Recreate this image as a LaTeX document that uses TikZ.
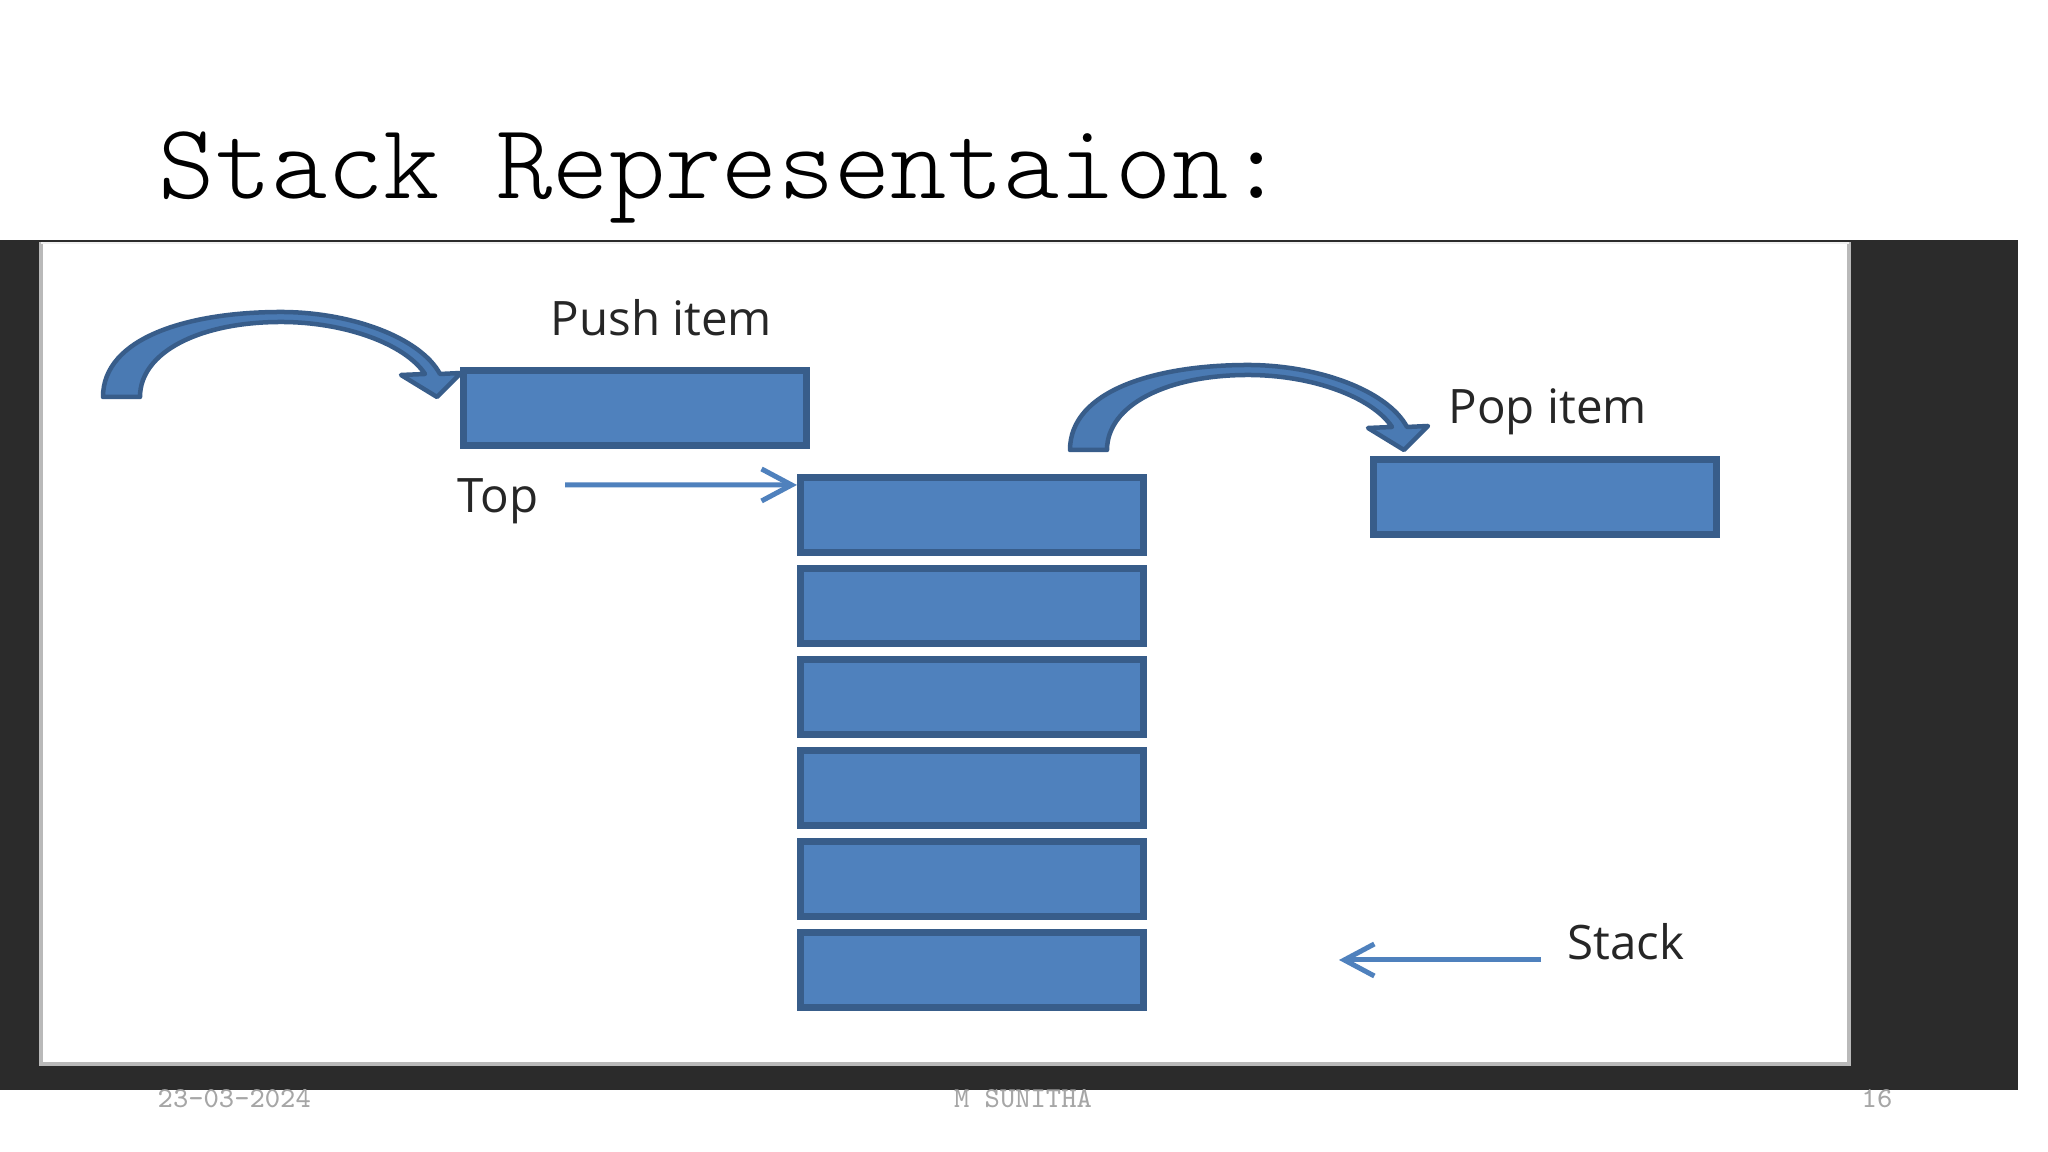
\documentclass[tikz,border=0pt]{standalone}
\usepackage{fontspec}
\setmainfont{Open Sans}
\newfontfamily\titlefont{Latin Modern Mono Light}
\usetikzlibrary{arrows.meta, positioning}
\definecolor{cellfill}{HTML}{4F81BD}
\definecolor{celledge}{HTML}{385D8A}
\definecolor{panel}{HTML}{2B2B2B}
\definecolor{footgray}{HTML}{A6A6A6}

\begin{document}
\begin{tikzpicture}[
      x=0.01cm, y=0.01cm,
      node distance=0.09cm,
      cell/.style={rectangle, draw=celledge, fill=cellfill, line width=0.07cm,
                   minimum width=3.43cm, minimum height=0.75cm, inner sep=0pt},
      lbl/.style={font=\fontsize{13.5}{16}\selectfont, text=black!85, inner sep=0pt},
      foot/.style={font=\ttfamily\fontsize{8.2}{10}\selectfont, text=footgray, inner sep=0pt},
      arr/.style={-{Straight Barb[length=3mm, width=3.2mm]}, line width=0.05cm, cellfill},
      bent/.style={fill=cellfill!80!celledge, draw=celledge, line width=0.045cm, line join=round},
      pics/bentarrow/.style={code={
        \filldraw[bent] (0,0) .. controls (0,60) and (87,85) .. (178,85)
          .. controls (247,85) and (317,60) .. (337,23) -- (358,24) -- (334,0)
          -- (298,22) -- (322,23) .. controls (302,53) and (242,75) .. (178,75)
          .. controls (97,75) and (37,45) .. (37,0) -- cycle;
      }}
    ]
      \useasboundingbox (0,0) rectangle (2048,1152);
      % slide frame
      \fill[panel] (0,62) rectangle (2018,912);
      \fill[white] (39,86) rectangle (1851,910);
      \draw[gray!55, line width=0.04cm] (41,910) -- (41,88) -- (1849,88) -- (1849,910);
      \draw[gray!12, line width=0.02cm] (41,909) -- (1849,909);

      \node[anchor=base west, inner sep=0pt, font=\titlefont\fontsize{30.5}{36}\selectfont]
        (title) at (158,953) {Stack Representaion:};

      % stack cells
      \node[cell] (s1) at (972,637) {};
      \foreach \i [count=\j from 1] in {2,...,6}
        \node[cell, below=of s\j] (s\i) {};

      \node[cell] (pushcell) at (635,744) {};
      \node[cell] (popcell) at (1545,655) {};

      \node[lbl, anchor=base west] (pushlbl) at (550,816) {Push item};
      \node[lbl, anchor=base west] (toplbl) at (457,639) {Top};
      \node[lbl, anchor=base west] (poplbl) at (1448,728) {Pop item};
      \node[lbl, anchor=base west] (stacklbl) at (1567,192) {Stack};

      \pic at (103,755) {bentarrow};
      \pic at (1070,702) {bentarrow};

      \draw[arr] ([xshift=0.26cm, yshift=0.28cm]toplbl.base east) -- ([yshift=-0.11cm]s1.north west);
      \coordinate (stackto) at (1339,192);
      \draw[arr] ([xshift=-0.26cm]stacklbl.base west) -- (stackto);

      % footer
      \node[foot, anchor=base west] (date) at (157,44) {23-03-2024};
      \node[foot, anchor=base] (author) at (1023,44) {M SUNITHA};
      \node[foot, anchor=base west] (pageno) at (1861,44) {16};
    \end{tikzpicture}
\end{document}
